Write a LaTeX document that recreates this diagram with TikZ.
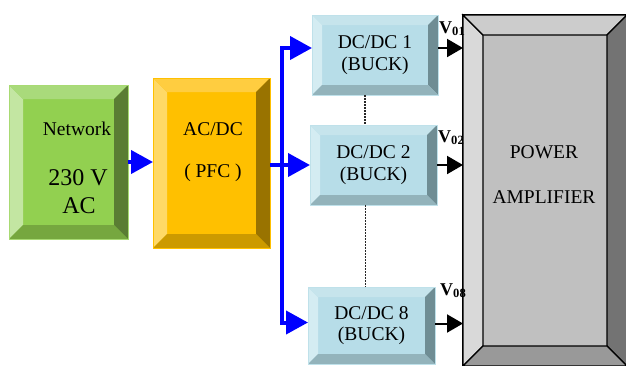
\documentclass[tikz,border=0pt]{standalone}
\usepackage{fontspec}
\setmainfont{Liberation Serif}
\usetikzlibrary{arrows.meta,calc}
\definecolor{netface}{HTML}{92D050}
\definecolor{netleft}{HTML}{C3E6A2}
\definecolor{nettop}{HTML}{A9DA7B}
\definecolor{netright}{HTML}{5A7D33}
\definecolor{netbottom}{HTML}{76A73F}
\definecolor{pfcface}{HTML}{FFC000}
\definecolor{pfcleft}{HTML}{FFD966}
\definecolor{pfctop}{HTML}{FFCD40}
\definecolor{pfcright}{HTML}{997300}
\definecolor{pfcbottom}{HTML}{CC9A00}
\definecolor{dcface}{HTML}{B7DDE8}
\definecolor{dcleft}{HTML}{D4ECF2}
\definecolor{dctop}{HTML}{C6E4EC}
\definecolor{dcright}{HTML}{6F8D94}
\definecolor{dcbottom}{HTML}{93B3BB}
\definecolor{dcline}{HTML}{BFE1EA}
\definecolor{ampface}{HTML}{C0C0C0}
\definecolor{ampleft}{HTML}{D9D9D9}
\definecolor{amptop}{HTML}{CCCCCC}
\definecolor{ampright}{HTML}{737373}
\definecolor{ampbottom}{HTML}{999999}

% four bevel faces of a box: node, bevel, left, top, right, bottom, extra
\newcommand{\bevelbox}[7]{%
  \path[fill=#3,#7] (#1.north west) -- (#1.south west) -- ([shift={(#2pt,#2pt)}]#1.south west) -- ([shift={(#2pt,-#2pt)}]#1.north west) -- cycle;
  \path[fill=#4,#7] (#1.north west) -- (#1.north east) -- ([shift={(-#2pt,-#2pt)}]#1.north east) -- ([shift={(#2pt,-#2pt)}]#1.north west) -- cycle;
  \path[fill=#5,#7] (#1.north east) -- (#1.south east) -- ([shift={(-#2pt,#2pt)}]#1.south east) -- ([shift={(-#2pt,-#2pt)}]#1.north east) -- cycle;
  \path[fill=#6,#7] (#1.south west) -- (#1.south east) -- ([shift={(-#2pt,#2pt)}]#1.south east) -- ([shift={(#2pt,#2pt)}]#1.south west) -- cycle;
}

\begin{document}
\begin{tikzpicture}[
        x=1pt, y=-1pt,
        box/.style={
          anchor=north west,
          inner sep=0pt,
          outer sep=0pt,
          line width=1pt,
          align=center,
          font=\fontsize{19.5}{21.5}\selectfont
        },
        txt/.style={
          anchor=base,
          inner sep=0pt,
          font=\fontsize{19.5}{22}\selectfont
        },
        bigtxt/.style={
          txt,
          font=\fontsize{24}{26}\selectfont
        },
        vlabel/.style={
          anchor=base west,
          inner sep=0pt,
          font=\fontsize{18}{20}\selectfont\bfseries
        },
        bluearrow/.style={
          -{Triangle[length=22pt,width=23pt]},
          line width=4pt,
          blue
        },
        outarrow/.style={
          -{Triangle[length=16pt,width=18pt]},
          line width=2pt,
          black
        },
        dots/.style={
          dash pattern=on 1.5pt off 1.5pt,
          line width=1.2pt,
          black!85
        }
      ]

      \useasboundingbox (0,0) rectangle (626,365);

      % network source
      \node[box, fill=netface, minimum width=119pt, minimum height=154pt] (net) at (9,85) {};
      \bevelbox{net}{14}{netleft}{nettop}{netright}{netbottom}{}
      \draw[netface!80!white, line width=1pt] (net.north west) rectangle (net.south east);
      \node[txt] (netname) at (77,135) {Network};
      \node[bigtxt] (netvolt) at (78,185) {230 V};
      \node[bigtxt] (netac) at (79,213) {AC};

      % AC/DC stage
      \node[box, fill=pfcface, minimum width=117pt, minimum height=170pt] (pfc) at (153,78) {};
      \bevelbox{pfc}{14}{pfcleft}{pfctop}{pfcright}{pfcbottom}{}
      \draw[pfcface, line width=1pt] (pfc.north west) rectangle (pfc.south east);
      \node[txt] (pfcname) at (213,135) {AC/DC};
      \node[txt] (pfcsub) at (213,177) {( PFC )};

      % DC/DC converters
      \node[box, fill=dcface, minimum width=126pt, minimum height=80pt] (dc1) at (312,15) {DC/DC 1\\(BUCK)};
      \node[box, fill=dcface, minimum width=127pt, minimum height=80pt] (dc2) at (310,125) {DC/DC 2\\(BUCK)};
      \node[box, fill=dcface, minimum width=127pt, minimum height=77pt] (dc8) at (308,287) {DC/DC 8\\(BUCK)};
      \foreach \dc in {dc1,dc2,dc8} {
        \bevelbox{\dc}{10}{dcleft}{dctop}{dcright}{dcbottom}{}
        \draw[dcline, line width=1pt] (\dc.north west) rectangle (\dc.south east);
      }

      % power amplifier
      \node[box, fill=ampface, draw=black, line width=1.2pt, minimum width=164pt, minimum height=351pt] (amp) at (463,15) {};
      \bevelbox{amp}{20}{ampleft}{amptop}{ampright}{ampbottom}{draw=black, line width=1.2pt}
      \node[txt] (ampname) at (544,158) {POWER};
      \node[txt] (ampsub) at (544,203) {AMPLIFIER};

      % output voltages
      \node[vlabel] (v01) at (439,33) {V\textsubscript{01}};
      \node[vlabel] (v02) at (438,142) {V\textsubscript{02}};
      \node[vlabel] (v08) at (440,295) {V\textsubscript{08}};

      % connections
      \coordinate (bus) at (282,0);
      \draw[bluearrow] (net.east) -- (net.east -| pfc.west);
      \draw[bluearrow] (pfc.east |- dc2.west) -- (dc2.west);
      \draw[bluearrow, {Triangle[length=22pt,width=23pt]}-{Triangle[length=22pt,width=23pt]}, line join=miter]
        ([yshift=7pt]dc1.west) -- ([yshift=7pt]dc1.west -| bus) -- ([yshift=3pt]dc8.west -| bus) -- ([yshift=3pt]dc8.west);
      \draw[dots] ([xshift=-10pt]dc1.south) -- ([xshift=-10pt]dc1.south |- dc2.north);
      \draw[dots] ([xshift=-8pt]dc2.south) -- ([xshift=-8pt]dc2.south |- dc8.north);
      \draw[outarrow] ([yshift=7pt]dc1.east) -- ([yshift=7pt]dc1.east -| amp.west);
      \draw[outarrow] (dc2.east) -- (dc2.east -| amp.west);
      \draw[outarrow] ([yshift=2pt]dc8.east) -- ([yshift=2pt]dc8.east -| amp.west);

      \end{tikzpicture}
\end{document}
